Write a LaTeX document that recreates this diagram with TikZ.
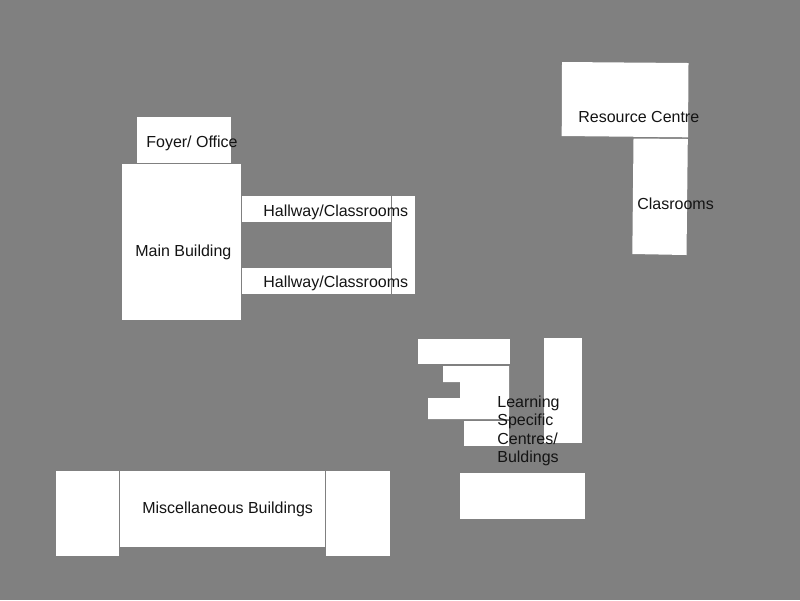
\documentclass[tikz,border=0pt]{standalone}
\usepackage{fontspec}
\setmainfont{Liberation Sans}
\definecolor{groundgray}{RGB}{128,128,128}
\definecolor{labelblack}{RGB}{20,20,20}
\tikzset{
  building/.style={fill=white, draw=none},
  label text/.style={anchor=base west, inner sep=0pt, color=labelblack, font=\fontsize{9.1}{10.2}\selectfont},
}

\begin{document}
\begin{tikzpicture}[x=0.02cm, y=-0.02cm]

% Ground (fixes the page size)
\fill[groundgray] (0,0) rectangle (800,600);
\useasboundingbox (0,0) rectangle (800,600);

% Main building and hallways
\fill[building] (137,117) rectangle (231,163);
\fill[building] (122,164) rectangle (241,320);
\fill[building] (242,196) rectangle (391,222);
\fill[building] (242,268) rectangle (391,294);
\fill[building] (392,196) rectangle (415,294);

% Resource centre and classrooms (slightly skewed)
\fill[building] (562,62) -- (688.5,63) -- (688,137.3) -- (561.7,136) -- cycle;
\fill[building] (633.5,138.5) -- (687.8,139) -- (686.5,255) -- (632.3,254) -- cycle;

% Learning specific centres
\fill[building] (418,339) rectangle (510,364);
\fill[building] (443,366) -- (509,366) -- (509,419) -- (428,419) -- (428,398) -- (460,398) -- (460,382) -- (443,382) -- cycle;
\fill[building] (464,421) rectangle (509,446);
\fill[building] (544,338) rectangle (582,443);
\fill[building] (460,473) rectangle (585,519);

% Miscellaneous buildings
\fill[building] (56,471) rectangle (119,556);
\fill[building] (120,471) rectangle (325,547);
\fill[building] (326,471) rectangle (390,556);

% Labels
\node[label text] (foyer) at (146,147) {Foyer/ Office};
\node[label text] (main) at (135,256) {Main Building};
\node[label text] (hallupper) at (263,216) {Hallway/Classrooms};
\node[label text] (halllower) at (263,287) {Hallway/Classrooms};
\node[label text] (resource) at (578,122) {Resource Centre};
\node[label text] (clasrooms) at (637,209) {Clasrooms};
\node[label text] (misc) at (142,513) {Miscellaneous Buildings};
\node[label text] (learning1) at (497,407) {Learning};
\node[label text] (learning2) at (497,425) {Specific};
\node[label text] (learning3) at (497,444) {Centres/};
\node[label text] (learning4) at (497,462) {Buldings};

\end{tikzpicture}
\end{document}
